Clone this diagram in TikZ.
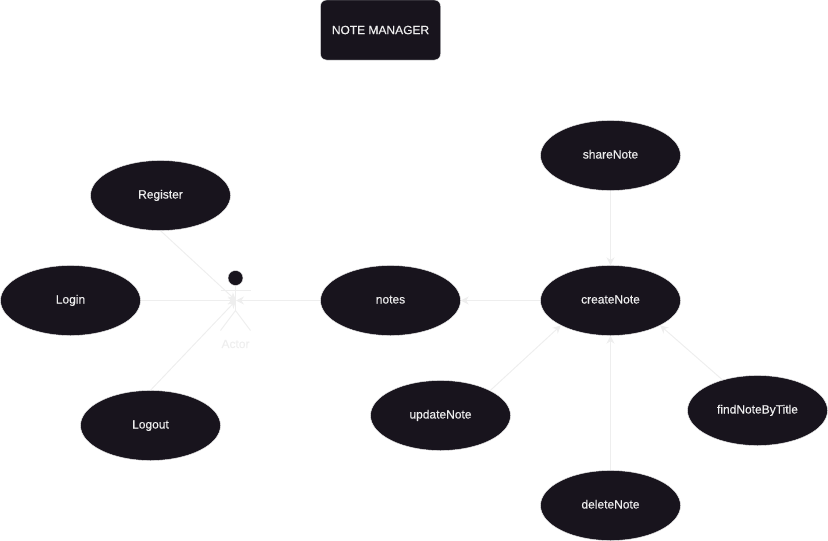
\documentclass[tikz,border=0pt]{standalone}
\usepackage{fontspec}
\setmainfont{Liberation Sans}
\newfontfamily\labelfont[FakeBold=0.3]{Liberation Sans}
\usetikzlibrary{arrows.meta,shapes.geometric}
\definecolor{darkcolor}{HTML}{18141D}
\definecolor{linecolor}{HTML}{EEEEEE}
\tikzstyle{usecase} = [
    ellipse,
    draw=linecolor,
    fill=darkcolor,
    text=linecolor,
    font=\labelfont\fontsize{12}{14}\selectfont,
    text height=8.6pt,
    text depth=2.6pt,
    inner sep=0pt,
    minimum width=140pt,
    minimum height=70pt
    ]
\tikzstyle{titlebox} = [
    rectangle,
    rounded corners=6pt,
    draw=linecolor,
    fill=darkcolor,
    text=linecolor,
    font=\labelfont\fontsize{12}{14}\selectfont,
    inner sep=0pt,
    minimum width=120pt,
    minimum height=60pt
    ]
\tikzstyle{connector} = [
    draw=linecolor,
    line width=1pt,
    -{Stealth[length=8pt,width=8pt]}
    ]
\tikzstyle{stickline} = [
    draw=linecolor,
    line width=1pt
    ]
\begin{document}
\begin{tikzpicture}[x=1pt,y=-1pt]
\useasboundingbox (0,0) rectangle (828,541);
\node [titlebox] (title) at (380.5,30) {NOTE MANAGER};
% actor
\node [circle, fill=darkcolor, draw=linecolor, inner sep=0pt, minimum size=15pt] (head) at (235.5,278) {};
\coordinate (actor) at (236,300.5);
\coordinate (hip) at (235.5,310.5);
\draw [stickline] (head) -- (hip);
\draw [stickline] (220.5,290.5) -- (250.5,290.5);
\draw [stickline] (220.5,330.5) -- (hip) -- (250.5,330.5);
\node [text=linecolor, font=\labelfont\fontsize{12}{14}\selectfont] (actorlabel) at (235.5,344) {Actor};
% use cases
\node [usecase] (register) at (160.5,195.5) {Register};
\node [usecase] (login) at (70.5,300.5) {Login};
\node [usecase] (logout) at (150.5,425.5) {Logout};
\node [usecase] (notes) at (390.5,300.5) {notes};
\node [usecase] (createNote) at (610.5,300.5) {createNote};
\node [usecase] (shareNote) at (610.5,155.5) {shareNote};
\node [usecase] (updateNote) at (440.5,415.5) {updateNote};
\node [usecase] (deleteNote) at (610.5,505.5) {deleteNote};
\node [usecase] (findNote) at (757.5,410.5) {findNoteByTitle};
% connectors
\draw [connector] (register.south) -- (actor);
\draw [connector] (login) -- (actor);
\draw [connector] (logout.north) -- (actor);
\draw [connector] (notes) -- (actor);
\draw [connector] (createNote) -- (notes);
\draw [connector] (shareNote) -- (createNote);
\draw [connector] (deleteNote) -- (createNote);
\draw [connector] (updateNote.north east) -- (createNote.south west);
\draw [connector] (findNote) -- (createNote.south east);
\end{tikzpicture}
\end{document}
